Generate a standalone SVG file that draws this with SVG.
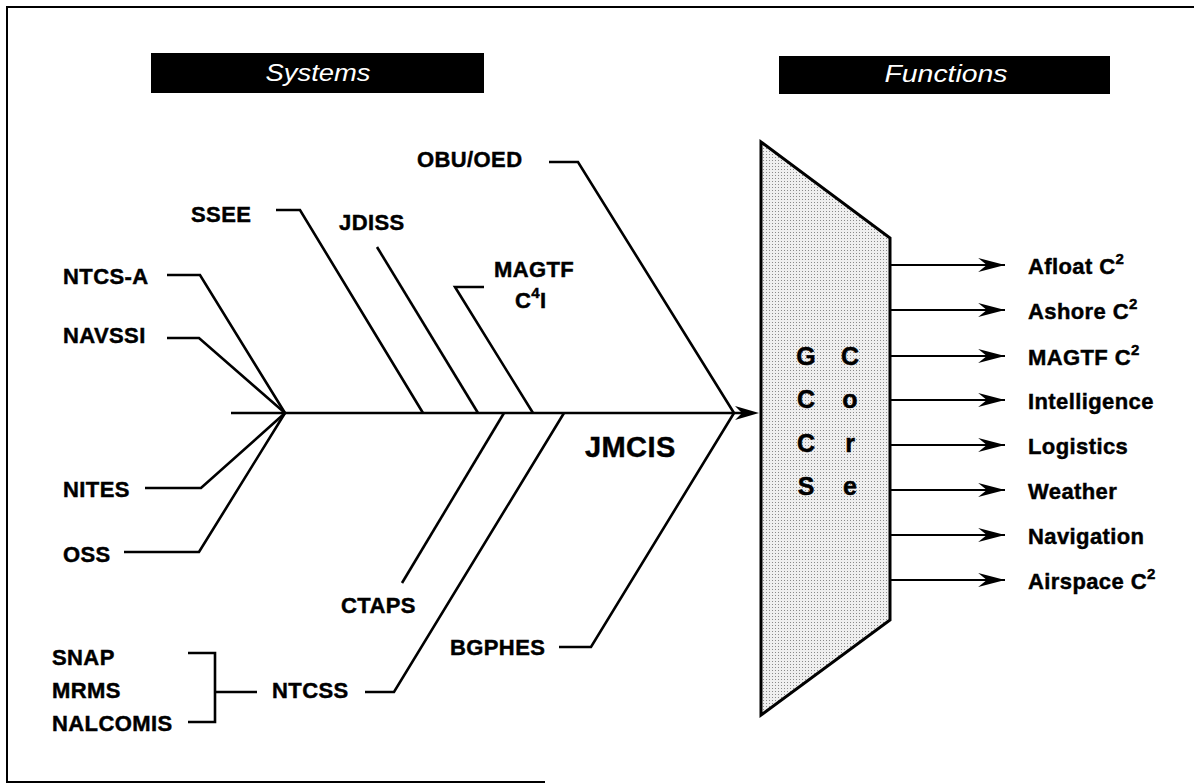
<svg xmlns="http://www.w3.org/2000/svg" width="1194" height="784" viewBox="0 0 1194 784">
<style>
  .lbl { font-family: "Liberation Sans", Arial, sans-serif; font-weight: bold; font-size: 22px; letter-spacing: 0.4px; fill: #000; stroke: #000; stroke-width: 0.45; }
  .sup { font-size: 15px; }
  .hdr { font-family: "Liberation Sans", Arial, sans-serif; font-style: italic; font-size: 23px; fill: #fff; text-anchor: middle; }
  .gc { font-family: "Liberation Sans", Arial, sans-serif; font-weight: bold; font-size: 25px; text-anchor: middle; fill: #000; stroke: #000; stroke-width: 0.5; }
  .ln { fill: none; stroke: #000; stroke-width: 2.6; stroke-linejoin: miter; }
  .arr { fill: none; stroke: #000; stroke-width: 2; marker-end: url(#barb); }
</style>
<defs>
  <marker id="barb" markerUnits="userSpaceOnUse" markerWidth="30" markerHeight="20" viewBox="-26 -8 28 16" refX="0" refY="0" orient="auto">
    <path d="M0,0 L-25,-6.5 L-17,0 L-25,6.5 Z" fill="#000"/>
  </marker>
  <pattern id="stip" patternUnits="userSpaceOnUse" width="3" height="3">
    <rect width="3" height="3" fill="#efefef"/>
    <rect x="1" y="1" width="1" height="1" fill="#8a8a8a"/>
  </pattern>
</defs>
<rect width="1194" height="784" fill="#fff"/>

<g id="frame" fill="none" stroke="#000" stroke-width="2">
  <path d="M1194,7 L7,7 L7,782 L545,782"/>
</g>

<g id="hdr-systems">
  <rect x="151" y="53" width="333" height="40" fill="#000"/>
  <text class="hdr" x="318" y="81" textLength="105" lengthAdjust="spacingAndGlyphs">Systems</text>
</g>
<g id="hdr-functions">
  <rect x="779" y="56" width="331" height="38" fill="#000"/>
  <text class="hdr" x="946" y="82" textLength="123" lengthAdjust="spacingAndGlyphs">Functions</text>
</g>

<g id="gccs">
  <polygon points="761,142 890,238 890,620 761,715" fill="url(#stip)" stroke="#000" stroke-width="3" stroke-linejoin="miter"/>
  <text class="gc" x="806" y="365">G</text>
  <text class="gc" x="806" y="408">C</text>
  <text class="gc" x="806" y="452">C</text>
  <text class="gc" x="806" y="495">S</text>
  <text class="gc" x="850" y="365">C</text>
  <text class="gc" x="850" y="408">o</text>
  <text class="gc" x="850" y="452">r</text>
  <text class="gc" x="850" y="495">e</text>
</g>

<g id="connectors">
  <path class="ln" d="M231,413 L745,413"/>
  <path d="M759,413 L735,406 L742,413 L735,420 Z" fill="#000"/>
  <polyline class="ln" points="167,275 200,275 285,413"/>
  <polyline class="ln" points="167,338 199,338 285,413"/>
  <polyline class="ln" points="145,488 201,488 285,413"/>
  <polyline class="ln" points="124,552 199,552 285,413"/>
  <polyline class="ln" points="276,210 300,210 423,413"/>
  <polyline class="ln" points="377,247 478,413"/>
  <polyline class="ln" points="484,287 455,287 533,413"/>
  <polyline class="ln" points="549,162 578,162 734,413"/>
  <polyline class="ln" points="402,583 504,413"/>
  <polyline class="ln" points="365,692 394,692 564,413"/>
  <polyline class="ln" points="559,647 591,647 734,413"/>
  <polyline class="ln" points="188,653 215,653 215,722 188,722"/>
  <polyline class="ln" points="215,692 257,692"/>
  <line class="arr" x1="890" y1="265" x2="1005" y2="265"/>
  <line class="arr" x1="890" y1="310" x2="1005" y2="310"/>
  <line class="arr" x1="890" y1="356" x2="1005" y2="356"/>
  <line class="arr" x1="890" y1="400" x2="1005" y2="400"/>
  <line class="arr" x1="890" y1="445" x2="1005" y2="445"/>
  <line class="arr" x1="890" y1="490" x2="1005" y2="490"/>
  <line class="arr" x1="890" y1="535" x2="1005" y2="535"/>
  <line class="arr" x1="890" y1="580" x2="1005" y2="580"/>
</g>

<g id="n-ntcsa"><text class="lbl" x="63" y="284">NTCS-A</text></g>
<g id="n-navssi"><text class="lbl" x="63" y="343">NAVSSI</text></g>
<g id="n-nites"><text class="lbl" x="63" y="497">NITES</text></g>
<g id="n-oss"><text class="lbl" x="63" y="562">OSS</text></g>
<g id="n-ssee"><text class="lbl" x="191" y="222">SSEE</text></g>
<g id="n-jdiss"><text class="lbl" x="339" y="230">JDISS</text></g>
<g id="n-magtf"><text class="lbl" x="494" y="277">MAGTF</text><text class="lbl" x="515" y="308">C<tspan class="sup" dy="-10">4</tspan><tspan dy="10">I</tspan></text></g>
<g id="n-obuoed"><text class="lbl" x="417" y="167">OBU/OED</text></g>
<g id="n-ctaps"><text class="lbl" x="341" y="613">CTAPS</text></g>
<g id="n-bgphes"><text class="lbl" x="450" y="655">BGPHES</text></g>
<g id="n-ntcss"><text class="lbl" x="272" y="698">NTCSS</text></g>
<g id="n-snap"><text class="lbl" x="52" y="665">SNAP</text></g>
<g id="n-mrms"><text class="lbl" x="52" y="698">MRMS</text></g>
<g id="n-nalcomis"><text class="lbl" x="52" y="731">NALCOMIS</text></g>
<g id="n-jmcis"><text class="lbl" x="585" y="457" style="font-size:29px">JMCIS</text></g>

<g id="f-afloat"><text class="lbl" x="1028" y="274">Afloat C<tspan class="sup" dy="-10">2</tspan></text></g>
<g id="f-ashore"><text class="lbl" x="1028" y="319">Ashore C<tspan class="sup" dy="-10">2</tspan></text></g>
<g id="f-magtf"><text class="lbl" x="1028" y="365">MAGTF C<tspan class="sup" dy="-10">2</tspan></text></g>
<g id="f-intel"><text class="lbl" x="1028" y="409">Intelligence</text></g>
<g id="f-log"><text class="lbl" x="1028" y="454">Logistics</text></g>
<g id="f-wx"><text class="lbl" x="1028" y="499">Weather</text></g>
<g id="f-nav"><text class="lbl" x="1028" y="544">Navigation</text></g>
<g id="f-air"><text class="lbl" x="1028" y="589">Airspace C<tspan class="sup" dy="-10">2</tspan></text></g>
</svg>
